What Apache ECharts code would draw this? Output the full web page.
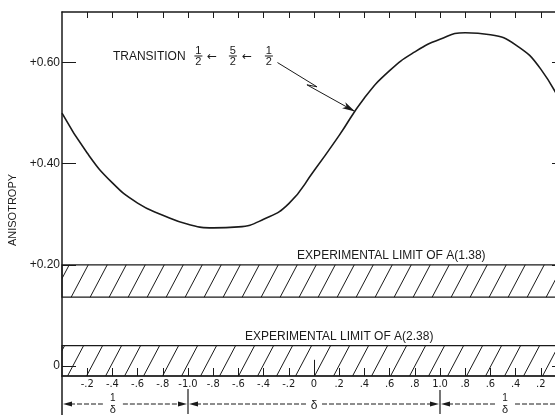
<!DOCTYPE html>
<html>
<head>
<meta charset="utf-8">
<script src="https://cdn.jsdelivr.net/npm/echarts@6/dist/echarts.min.js"></script>
<style>
  html, body { margin: 0; background: #fff; }
  #chart { width: 555px; height: 415px; }
</style>
</head>
<body>
<div id="chart"></div>
<script>
// position along the bottom scale, counted in 0.2 steps (0 = left border, 20 = right border)
const steps = [0, 1, 2, 3, 4, 5, 6, 7, 8, 9, 10, 11, 12, 13, 14, 15, 16, 17, 18, 19, 20];
const anisotropy = [0.500, 0.421, 0.362, 0.322, 0.298, 0.280, 0.273, 0.275, 0.290, 0.321, 0.386,
                    0.456, 0.530, 0.584, 0.621, 0.646, 0.659, 0.655, 0.635, 0.587, 0.500];
const bottomTickLabels = ['', '-.2', '-.4', '-.6', '-.8', '-1.0', '-.8', '-.6', '-.4', '-.2', '0',
                          '.2', '.4', '.6', '.8', '1.0', '.8', '.6', '.4', '.2', ''];
const yTickValues = [0, 0.2, 0.4, 0.6];
const yTickLabels = ['0', '+0.20', '+0.40', '+0.60'];
const limitBands = [[0.136, 0.20], [-0.02, 0.04]];
const limitNames = ['EXPERIMENTAL LIMIT OF A(1.38)', 'EXPERIMENTAL LIMIT OF A(2.38)'];

const ink = '#1a1a1a';
const font = '"Liberation Sans", Arial, sans-serif';
const narrow = '"Liberation Sans Narrow", "DejaVu Sans Condensed", "Liberation Sans", sans-serif';

// diagonal hatching tile
function hatch() {
  const c = document.createElement('canvas');
  c.width = 38; c.height = 72;
  const ctx = c.getContext('2d');
  ctx.strokeStyle = ink;
  ctx.lineWidth = 1;
  for (let k = -2; k <= 2; k++) {
    ctx.beginPath();
    ctx.moveTo(k * 19, 72);
    ctx.lineTo(k * 19 + 38, 0);
    ctx.stroke();
  }
  return c;
}

const innerTicks = steps.slice(1, 20);
const chart = echarts.init(document.getElementById('chart'), null, { renderer: 'canvas' });

const option = {
  backgroundColor: '#fff',
  animation: false,
  grid: { left: 62, right: -11, top: 12, bottom: 39, outerBoundsMode: 'none' },
  xAxis: [{
    type: 'value', min: 0, max: 20, position: 'bottom',
    axisLine: { show: true, onZero: false, lineStyle: { color: ink, width: 1.5 } },
    axisTick: { show: true, inside: true, length: 8, customValues: innerTicks, lineStyle: { color: ink } },
    axisLabel: {
      customValues: innerTicks, margin: 3, color: ink, fontSize: 11, fontFamily: narrow,
      formatter: v => bottomTickLabels[Math.round(v)]
    },
    splitLine: { show: false }
  }, {
    type: 'value', min: 0, max: 20, position: 'top',
    axisLine: { show: true, onZero: false, lineStyle: { color: ink, width: 1.5 } },
    axisTick: { show: true, inside: true, length: 6, customValues: innerTicks, lineStyle: { color: ink } },
    axisLabel: { show: false },
    splitLine: { show: false }
  }],
  yAxis: [{
    type: 'value', min: -0.02, max: 0.70, position: 'left',
    name: 'ANISOTROPY', nameLocation: 'middle', nameRotate: 90, nameGap: 42,
    nameTextStyle: { color: ink, fontSize: 11, fontFamily: font, padding: [0, 32, 0, 0] },
    axisLine: { show: true, onZero: false, lineStyle: { color: ink, width: 1.5 } },
    axisTick: { show: true, inside: true, length: 14, customValues: yTickValues, lineStyle: { color: ink } },
    axisLabel: {
      customValues: yTickValues, margin: 2, color: ink, fontSize: 12, fontFamily: font,
      formatter: v => {
        const i = yTickValues.findIndex(t => Math.abs(t - v) < 1e-6);
        return i >= 0 ? yTickLabels[i] : '';
      }
    },
    splitLine: { show: false }
  }, {
    type: 'value', min: -0.02, max: 0.70, position: 'right',
    axisLine: { show: true, onZero: false, lineStyle: { color: ink, width: 1.5 } },
    axisTick: { show: true, inside: true, length: 14, customValues: yTickValues, lineStyle: { color: ink } },
    axisLabel: { show: false },
    splitLine: { show: false }
  }],
  series: [{
    type: 'line',
    data: steps.map((s, i) => [s, anisotropy[i]]),
    smooth: true,
    symbol: 'none',
    silent: true,
    lineStyle: { color: ink, width: 1.6 },
    markArea: {
      silent: true,
      itemStyle: { color: { image: hatch(), repeat: 'repeat' }, borderColor: ink, borderWidth: 1.2 },
      data: limitBands.map(b => [{ xAxis: 0, yAxis: b[0] }, { xAxis: 20, yAxis: b[1] }])
    },
    markLine: {
      silent: true,
      symbol: ['none', 'none'],
      label: { show: false },
      emphasis: { disabled: true },
      lineStyle: { color: ink, width: 1, type: 'solid' },
      data: [
        // leader from the transition label to the curve
        [{ coord: [8.55, 0.600] }, { coord: [10.12, 0.552] }],
        [{ coord: [10.12, 0.552] }, { coord: [9.72, 0.556] }],
        [{ coord: [9.72, 0.556] }, { coord: [11.63, 0.503], symbol: 'arrow', symbolSize: [5, 13] }],
        // longer tick at delta = 0
        [{ coord: [10, -0.02] }, { coord: [10, 0.012] }]
      ]
    }
  }]
};
chart.setOption(option);

// annotations placed through the axes
const p = (u, v) => chart.convertToPixel({ xAxisIndex: 0, yAxisIndex: 0 }, [u, v]);
const gfx = [];
function txt(x, y, s, size, align, vAlign, family) {
  gfx.push({ type: 'text', x: x, y: y, silent: true,
    style: { text: s, fill: ink, font: size + 'px ' + (family || font), align: align || 'left', verticalAlign: vAlign || 'middle' } });
}
function seg(x1, y1, x2, y2, w, dash) {
  gfx.push({ type: 'line', silent: true, shape: { x1, y1, x2, y2 },
    style: { stroke: ink, lineWidth: w || 1, lineDash: dash || null } });
}
function head(x, y, dir) {
  gfx.push({ type: 'polygon', silent: true,
    shape: { points: [[x, y], [x - dir * 9, y - 2.5], [x - dir * 9, y + 2.5]] }, style: { fill: ink } });
}
function frac(cx, cy, top, bottom, size) {
  txt(cx, cy - 5.5, top, size, 'center');
  seg(cx - 4, cy, cx + 4, cy, 1);
  txt(cx, cy + 6, bottom, size, 'center');
}

// limit labels
const b1 = p(9.33, limitBands[0][1]);
txt(b1[0], b1[1] - 3, limitNames[0], 12, 'left', 'bottom');
const b2 = p(7.26, limitBands[1][1]);
txt(b2[0], b2[1] - 3, limitNames[1], 12, 'left', 'bottom');

// transition label
const t = p(2.02, 0.611);
txt(t[0], t[1], 'TRANSITION', 12, 'left');
frac(t[0] + 85.5, t[1] - 1, '1', '2', 11);
txt(t[0] + 99, t[1], '←', 12, 'center', 'middle', '"DejaVu Sans", sans-serif');
frac(t[0] + 120, t[1] - 1, '5', '2', 11);
txt(t[0] + 134, t[1], '←', 12, 'center', 'middle', '"DejaVu Sans", sans-serif');
frac(t[0] + 156, t[1] - 1, '1', '2', 11);

// dimension line under the scale
const bottom = p(0, -0.02)[1];
const yd = bottom + 28;
const x0 = p(0, 0)[0], x5 = p(5, 0)[0], x15 = p(15, 0)[0], x20 = p(20, 0)[0];
const xa = p(2.02, 0)[0], xm = p(10, 0)[0], xb = p(17.58, 0)[0];
seg(x0, bottom, x0, 415, 1.5);
seg(x5, yd - 15, x5, yd + 10, 1.2);
seg(x15, yd - 14, x15, yd + 10, 1.2);
const dash = [5, 2];
seg(x0 + 8, yd, xa - 10, yd, 1, dash);
seg(xa + 10, yd, x5 - 8, yd, 1, dash);
seg(x5 + 8, yd, xm - 8, yd, 1, dash);
seg(xm + 8, yd, x15 - 8, yd, 1, dash);
seg(x15 + 8, yd, xb - 10, yd, 1, dash);
seg(xb + 10, yd, x20 - 8, yd, 1, dash);
head(x0 + 1, yd, -1);
head(x5 - 1, yd, 1);
head(x5 + 1, yd, -1);
head(x15 - 1, yd, 1);
head(x15 + 1, yd, -1);
head(x20 - 1, yd, 1);
txt(xa, yd - 6, '1', 10, 'center');
txt(xa, yd + 6, 'δ', 11, 'center');
txt(xm, yd + 2, 'δ', 12, 'center');
txt(xb, yd - 6, '1', 10, 'center');
txt(xb, yd + 6, 'δ', 11, 'center');

chart.setOption({ graphic: gfx });
</script>
</body>
</html>
